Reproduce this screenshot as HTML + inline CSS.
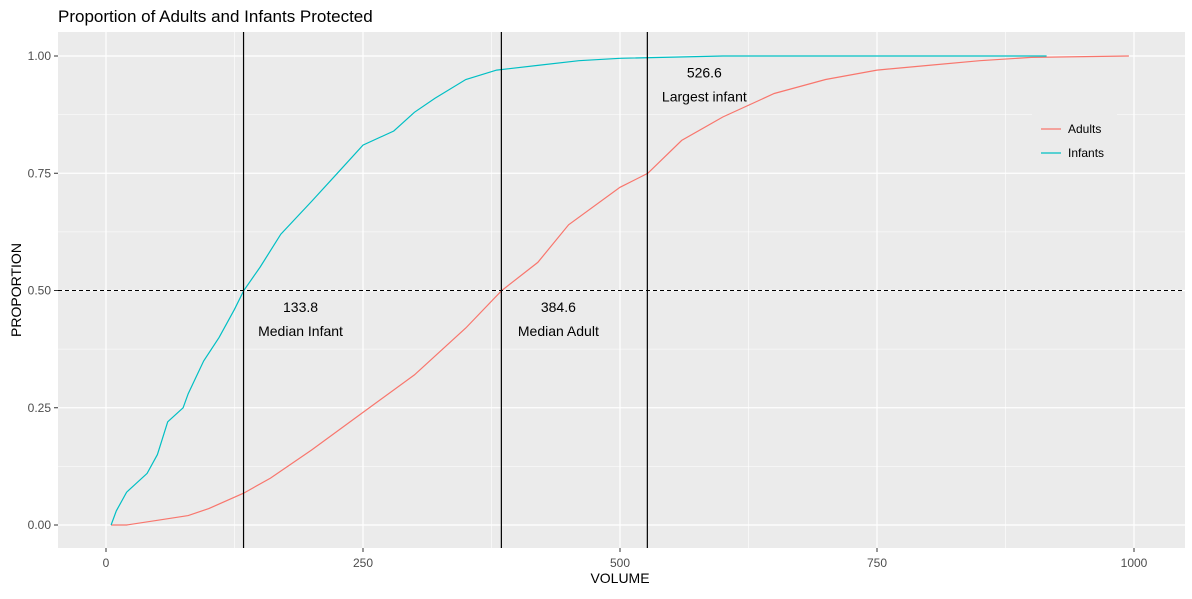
<!DOCTYPE html>
<html><head><meta charset="utf-8"><style>
body{margin:0;background:#fff;font-family:"Liberation Sans",Arial,sans-serif}
svg text{font-family:"Liberation Sans",Arial,sans-serif}
</style></head><body>
<svg id="chart" width="1192" height="594" xmlns="http://www.w3.org/2000/svg">
<text x="58" y="22" font-size="17" fill="#000">Proportion of Adults and Infants Protected</text>
<rect x="58" y="32" width="1127" height="516" fill="#ebebeb"/>
<g id="grid"></g>
<g id="series"></g>
<g id="refs"></g>
<g id="axes"></g>
<text x="620" y="583" font-size="14" text-anchor="middle" fill="#000">VOLUME</text>
<text transform="translate(21,290) rotate(-90)" font-size="14" text-anchor="middle" fill="#000">PROPORTION</text>
<g>
<rect x="1032" y="112" width="85" height="54" fill="#ebebeb"/>
<line x1="1041" y1="129" x2="1061" y2="129" stroke="#F8766D" stroke-width="1.2"/>
<text x="1068" y="133" font-size="12">Adults</text>
<line x1="1041" y1="153" x2="1061" y2="153" stroke="#00BFC4" stroke-width="1.2"/>
<text x="1068" y="157" font-size="12">Infants</text>
</g>
</svg>
<script>
const xTicks=[0,250,500,750,1000];
const yTicks=[0,0.25,0.5,0.75,1.0];
const yTickLabels=["0.00","0.25","0.50","0.75","1.00"];
const infantVol=[5,10,20,40,50,60,75,80,95,110,125,134,150,170,200,225,250,280,300,320,350,380,420,460,500,600,915];
const infantProp=[0,0.03,0.07,0.11,0.15,0.22,0.25,0.28,0.35,0.40,0.46,0.50,0.55,0.62,0.69,0.75,0.81,0.84,0.88,0.91,0.95,0.97,0.98,0.99,0.995,1.0,1.0];
const adultVol=[5,20,50,80,100,134,160,200,250,300,350,385,420,450,500,527,560,600,650,700,750,800,850,900,995];
const adultProp=[0,0,0.01,0.02,0.035,0.068,0.10,0.16,0.24,0.32,0.42,0.50,0.56,0.64,0.72,0.75,0.82,0.87,0.92,0.95,0.97,0.98,0.99,0.997,1.0];
const refVols=[133.8,384.6,526.6];
const refLabels=[["133.8","Median Infant"],["384.6","Median Adult"],["526.6","Largest infant"]];
const refLabelProp=[0.5,0.5,1.0];
const X=v=>106+v*1.028, Y=p=>525-p*469;
const NS="http://www.w3.org/2000/svg";
function mk(tag,attrs,parent){const e=document.createElementNS(NS,tag);for(const k in attrs)e.setAttribute(k,attrs[k]);document.getElementById(parent).appendChild(e);return e;}
for(let i=0;i<xTicks.length-1;i++){const l=mk('line',{x1:X((xTicks[i]+xTicks[i+1])/2),x2:X((xTicks[i]+xTicks[i+1])/2),y1:32,y2:548,stroke:'#fff','stroke-width':0.6},'grid');

}
for(let i=0;i<yTicks.length-1;i++){const l=mk('line',{x1:58,x2:1185,y1:Y((yTicks[i]+yTicks[i+1])/2),y2:Y((yTicks[i]+yTicks[i+1])/2),stroke:'#fff','stroke-width':0.6},'grid');

}
xTicks.forEach(t=>{const l=mk('line',{x1:X(t),x2:X(t),y1:32,y2:548,stroke:'#fff','stroke-width':1.2},'grid');


const tk=mk('line',{x1:X(t),x2:X(t),y1:548,y2:552,stroke:'#333'},'axes');


const tx=mk('text',{x:X(t),y:567,'font-size':12,'text-anchor':'middle',fill:'#4d4d4d'},'axes');tx.textContent=t;

});
yTicks.forEach((t,i)=>{const l=mk('line',{x1:58,x2:1185,y1:Y(t),y2:Y(t),stroke:'#fff','stroke-width':1.2},'grid');


const tk=mk('line',{x1:54,x2:58,y1:Y(t),y2:Y(t),stroke:'#333'},'axes');


const tx=mk('text',{x:51,y:Y(t)+4,'font-size':12,'text-anchor':'end',fill:'#4d4d4d'},'axes');tx.textContent=yTickLabels[i];

});
function linePath(vs,ps){let d='M'+X(vs[0]).toFixed(1)+','+Y(ps[0]).toFixed(1);for(let i=1;i<vs.length;i++){d+=' L'+X(vs[i]).toFixed(1)+','+Y(ps[i]).toFixed(1);}return d;}
const pa=mk('path',{d:linePath(adultVol,adultProp),fill:'none',stroke:'#F8766D','stroke-width':1.2},'series');


const pi=mk('path',{d:linePath(infantVol,infantProp),fill:'none',stroke:'#00BFC4','stroke-width':1.2},'series');


const h=mk('line',{x1:58,x2:1185,y1:Y(0.5),y2:Y(0.5),stroke:'#000','stroke-dasharray':'4,3','stroke-width':1},'refs');


refVols.forEach((v,i)=>{const l=mk('line',{x1:X(v),x2:X(v),y1:32,y2:548,stroke:'#000','stroke-width':1.2},'refs');


const cx=X(v)+57, yb=Y(refLabelProp[i]-0.05);
const t1=mk('text',{x:cx,y:yb-2,'font-size':14,'text-anchor':'middle'},'refs');t1.textContent=refLabels[i][0];


const t2=mk('text',{x:cx,y:yb+22,'font-size':14,'text-anchor':'middle'},'refs');t2.textContent=refLabels[i][1];

});
</script>
</body></html>
